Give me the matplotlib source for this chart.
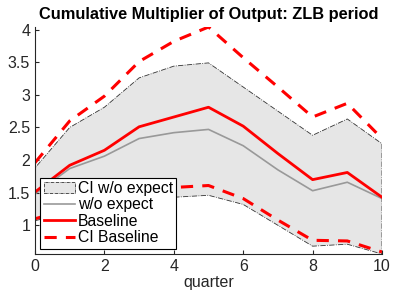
import matplotlib
matplotlib.use("Agg")
import matplotlib.pyplot as plt
import numpy as np

plt.rcParams['font.family'] = ['Liberation Sans', 'DejaVu Sans']

quarter = [0, 1, 2, 3, 4, 5, 6, 7, 8, 9, 10]
baseline = [1.51, 1.92, 2.15, 2.51, 2.66, 2.81, 2.52, 2.10, 1.70, 1.81, 1.43]
ci_base_up = [1.96, 2.60, 2.98, 3.51, 3.82, 4.04, 3.57, 3.12, 2.66, 2.87, 2.33]
ci_base_lo = [1.10, 1.25, 1.40, 1.52, 1.58, 1.61, 1.41, 1.08, 0.77, 0.76, 0.59]
wo_expect = [1.48, 1.87, 2.06, 2.33, 2.42, 2.47, 2.22, 1.85, 1.53, 1.66, 1.41]
ci_wo_up = [1.88, 2.50, 2.81, 3.26, 3.44, 3.49, 3.12, 2.75, 2.38, 2.63, 2.25]
ci_wo_lo = [1.07, 1.20, 1.30, 1.40, 1.43, 1.46, 1.32, 1.00, 0.68, 0.71, 0.56]

fig = plt.figure(figsize=(3.93, 2.94), dpi=100)
ax = fig.add_axes([35/393, 1-254/294, 347/393, (254-27)/294])

x = np.array(quarter)
fill = ax.fill_between(x, ci_wo_lo, ci_wo_up, facecolor='#e6e6e6', edgecolor='#333333',
                       linestyle='-.', linewidth=0.6, label='CI w/o expect')
ax.plot(x, wo_expect, color='#999999', linewidth=1.2, label='w/o expect')
ax.plot(x, baseline, color='red', linewidth=2.0, label='Baseline')
ax.plot(x, ci_base_up, color='red', linewidth=2.2, linestyle=(0, (4, 3)), label='CI Baseline')
ax.plot(x, ci_base_lo, color='red', linewidth=2.2, linestyle=(0, (4, 3)))

ax.set_xlim(0, 10)
ax.set_ylim(min(ci_wo_lo), max(ci_base_up))
ax.set_xticks([0, 2, 4, 6, 8, 10])
ax.set_yticks([1, 1.5, 2, 2.5, 3, 3.5, 4])
ax.set_yticklabels(['1', '1.5', '2', '2.5', '3', '3.5', '4'])
for s in ['top', 'right']:
    ax.spines[s].set_visible(False)
for s in ['left', 'bottom']:
    ax.spines[s].set_color('#262626')
    ax.spines[s].set_linewidth(0.8)
ax.tick_params(direction='in', labelsize=11.5, colors='#262626', length=3)
ax.set_xlabel('quarter', fontsize=11.5, color='#262626', labelpad=1)
ax.set_title('Cumulative Multiplier of Output: ZLB period', fontsize=11.8,
             fontweight='bold', pad=6)

leg = ax.legend(loc='lower left', fontsize=11.3, frameon=True, fancybox=False,
                edgecolor='black', framealpha=1, borderaxespad=0.35,
                handlelength=2.0, handletextpad=0.2, labelspacing=0.1,
                borderpad=0.2)
leg.get_frame().set_linewidth(0.8)

fig.savefig('out.png', dpi=100)
